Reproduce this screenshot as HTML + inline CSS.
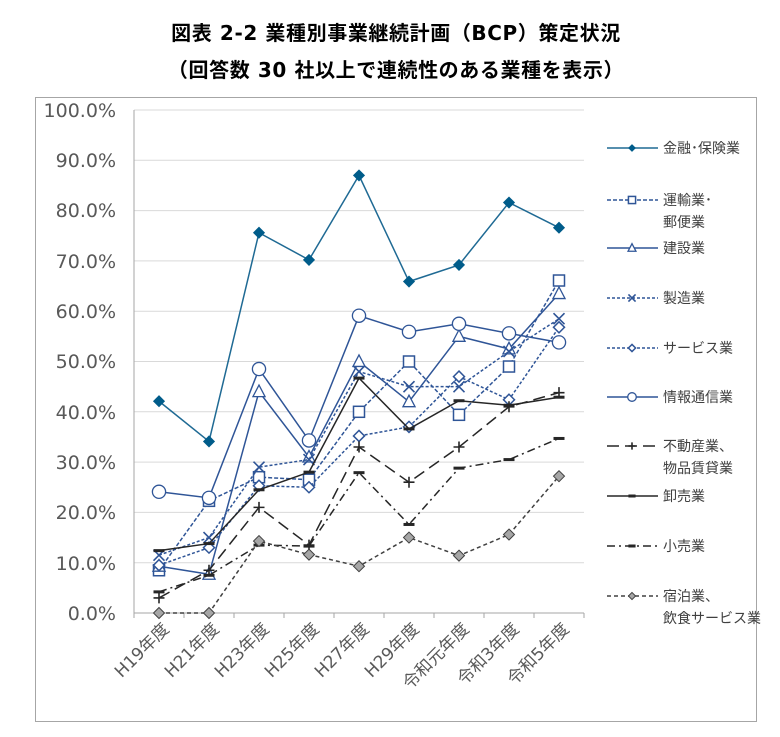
<!DOCTYPE html>
<html><head><meta charset="utf-8"><style>
body{margin:0;background:#fff;width:780px;height:732px;overflow:hidden}
svg text{font-family:"DejaVu Sans","Noto Sans CJK JP",sans-serif}
</style></head><body>
<svg width="780" height="732" xmlns="http://www.w3.org/2000/svg">
<text x="396" y="40" text-anchor="middle" font-size="20" letter-spacing="0.6" font-weight="bold" fill="#000">図表 2-2  業種別事業継続計画（BCP）策定状況</text>
<text x="396" y="77" text-anchor="middle" font-size="20" letter-spacing="0.6" font-weight="bold" fill="#000">（回答数 30 社以上で連続性のある業種を表示）</text>
<rect x="35.5" y="97.5" width="721" height="624" fill="none" stroke="#A6A6A6"/>
<g stroke="#D9D9D9" stroke-width="1">
<line x1="134" x2="584" y1="110" y2="110"/><line x1="134" x2="584" y1="160.3" y2="160.3"/><line x1="134" x2="584" y1="210.6" y2="210.6"/><line x1="134" x2="584" y1="260.9" y2="260.9"/><line x1="134" x2="584" y1="311.2" y2="311.2"/><line x1="134" x2="584" y1="361.5" y2="361.5"/><line x1="134" x2="584" y1="411.8" y2="411.8"/><line x1="134" x2="584" y1="462.1" y2="462.1"/><line x1="134" x2="584" y1="512.4" y2="512.4"/><line x1="134" x2="584" y1="562.7" y2="562.7"/>
</g>
<g stroke="#A6A6A6"><line x1="134" x2="134" y1="110" y2="613"/><line x1="134" x2="584" y1="613" y2="613"/>
<path d="M134 613v5M184 613v5M234 613v5M284 613v5M334 613v5M384 613v5M434 613v5M484 613v5M534 613v5M584 613v5"/></g>
<g font-size="19" fill="#595959" text-anchor="end">
<text x="116" y="117">100.0%</text><text x="116" y="167">90.0%</text><text x="116" y="217">80.0%</text><text x="116" y="268">70.0%</text><text x="116" y="318">60.0%</text><text x="116" y="368">50.0%</text><text x="116" y="419">40.0%</text><text x="116" y="469">30.0%</text><text x="116" y="519">20.0%</text><text x="116" y="570">10.0%</text><text x="116" y="620">0.0%</text>
</g>
<g font-size="17" fill="#595959" text-anchor="end">
<text transform="translate(170,630) rotate(-45)">H19年度</text>
<text transform="translate(220,630) rotate(-45)">H21年度</text>
<text transform="translate(270,630) rotate(-45)">H23年度</text>
<text transform="translate(320,630) rotate(-45)">H25年度</text>
<text transform="translate(370,630) rotate(-45)">H27年度</text>
<text transform="translate(420,630) rotate(-45)">H29年度</text>
<text transform="translate(470,630) rotate(-45)">令和元年度</text>
<text transform="translate(520,630) rotate(-45)">令和3年度</text>
<text transform="translate(570,630) rotate(-45)">令和5年度</text>
</g>
<g id="series"></g>
<g id="legend" font-size="14" fill="#404040"></g>
</svg>
<script>
const X=i=>159+50*i, Y=v=>613-v*5.03;
const S=[
{d:[42.1,34.1,75.6,70.2,87,65.9,69.2,81.6,76.6],c:"#1F6A94",dash:"",m:"dfill",mc:"#005C8A",n:["金融･保険業"],ly:148},
{d:[8.5,22.3,27,26.5,40,50,39.4,49,66.1],c:"#2F5597",dash:"4,2",m:"sq",n:["運輸業･","郵便業"],ly:200},
{d:[9.3,7.7,44,31,50,42,55,52.5,63.5],c:"#2F5597",dash:"",m:"tri",n:["建設業"],ly:248},
{d:[11.5,15,29,30.5,48,45,45,52,58.5],c:"#2F5597",dash:"3,2",m:"x",n:["製造業"],ly:298},
{d:[9.5,13,25.3,25,35.2,37,47,42.4,56.8],c:"#2F5597",dash:"3,2",m:"dopen",n:["サービス業"],ly:348},
{d:[24.1,22.9,48.5,34.3,59.1,55.9,57.5,55.6,53.8],c:"#2F5597",dash:"",m:"circ",n:["情報通信業"],ly:397},
{d:[3,8.5,21,13.5,33,26,33,41,43.8],c:"#262626",dash:"12,6",m:"plus",n:["不動産業、","物品賃貸業"],ly:446},
{d:[12.4,13.8,24.5,28,46.7,36.6,42.2,41.3,42.9],c:"#262626",dash:"",m:"bar",n:["卸売業"],ly:496},
{d:[4.2,7.5,13.5,13.3,27.9,17.6,28.8,30.5,34.7],c:"#262626",dash:"8,4,2,4",m:"bar",n:["小売業"],ly:546},
{d:[0,0,14.3,11.6,9.3,15,11.4,15.6,27.2],c:"#404040",dash:"4,3",m:"dgray",n:["宿泊業、","飲食サービス業"],ly:596}
];
function mk(m,x,y,s,c,mc){s=s||1;const r=5.5*s;
switch(m){
case"dfill":return`<path d="M${x} ${y-r*1.1}L${x+r*1.1} ${y}L${x} ${y+r*1.1}L${x-r*1.1} ${y}Z" fill="${mc}"/>`;
case"sq":return`<rect x="${x-r}" y="${y-r}" width="${2*r}" height="${2*r}" fill="#fff" stroke="${c}" stroke-width="1.5"/>`;
case"tri":return`<path d="M${x} ${y-r*1.2}L${x+r*1.1} ${y+r*0.9}L${x-r*1.1} ${y+r*0.9}Z" fill="#fff" stroke="${c}" stroke-width="1.3"/>`;
case"x":return`<path d="M${x-r} ${y-r}L${x+r} ${y+r}M${x+r} ${y-r}L${x-r} ${y+r}" stroke="${c}" stroke-width="1.6"/>`;
case"dopen":return`<path d="M${x} ${y-r}L${x+r} ${y}L${x} ${y+r}L${x-r} ${y}Z" fill="#fff" stroke="${c}" stroke-width="1.5"/>`;
case"circ":return`<circle cx="${x}" cy="${y}" r="${r*1.2}" fill="#fff" stroke="${c}" stroke-width="1.3"/>`;
case"plus":return`<path d="M${x-r} ${y}H${x+r}M${x} ${y-r}V${y+r}" stroke="${c}" stroke-width="1.6"/>`;
case"bar":return`<rect x="${x-r}" y="${y-1.5}" width="${2*r}" height="3" fill="${c}"/>`;
case"dgray":return`<path d="M${x} ${y-r}L${x+r} ${y}L${x} ${y+r}L${x-r} ${y}Z" fill="#A6A6A6" stroke="#404040" stroke-width="1"/>`;
}}
let g="",L="";
S.forEach(s=>{
const pts=s.d.map((v,i)=>X(i)+","+Y(v)).join(" ");
g+=`<polyline points="${pts}" fill="none" stroke="${s.c}" stroke-width="1.5" stroke-dasharray="${s.dash}"/>`;
s.d.forEach((v,i)=>g+=mk(s.m,X(i),Y(v),1,s.c,s.mc));
L+=`<line x1="607" x2="658" y1="${s.ly}" y2="${s.ly}" stroke="${s.c}" stroke-width="1.5" stroke-dasharray="${s.dash}"/>`+mk(s.m,632,s.ly,0.65,s.c,s.mc);
s.n.forEach((t,k)=>L+=`<text x="663" y="${s.ly+5+k*22}">${t}</text>`);
});
document.getElementById("series").innerHTML=g;
document.getElementById("legend").innerHTML=L;
</script>
</body></html>
